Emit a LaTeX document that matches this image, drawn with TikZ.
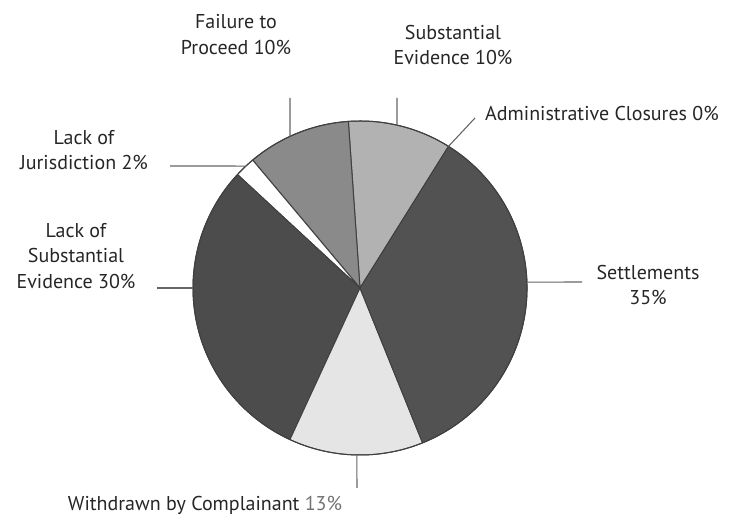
\documentclass[tikz,border=0pt]{standalone}
\usepackage{fontspec}
\setmainfont{PT Sans}
\usetikzlibrary{positioning,calc}

\begin{document}
\begin{tikzpicture}[
  x = 1pt,
  y = 1pt,
  slice/.style={draw=black!75,line width=1pt,line join=round},
  leader/.style={draw=black!60,line width=1.1pt},
  tag/.style={align=center,inner sep=0pt,text=black!85,font=\fontsize{20}{25.5}\selectfont},
  ]
  \useasboundingbox (0,0) rectangle (738,518);
  \coordinate (centre) at (360,230);

  \foreach \from/\to/\tone in {58/94/black!30, 94/130/black!46, 130/137.2/white,
                               137.2/245.2/black!70, 245.2/292/black!10, 292/418/black!68}
    \filldraw[slice,fill=\tone] (centre) -- ++(\from:167)
      arc[start angle=\from,end angle=\to,radius=167] -- cycle;
  \draw[slice] (centre) circle[radius=167];

  \node[tag] (failure) at (236,483.5) {Failure to\\Proceed 10\%};
  \node[tag] (substantial) at (453,473) {Substantial\\Evidence 10\%};
  \node[tag] (admin) at (602,405) {Administrative Closures 0\%};
  \node[tag] (jurisdiction) at (84,368) {Lack of\\Jurisdiction 2\%};
  \node[tag] (lack-evidence) at (76,262) {Lack of\\Substantial\\Evidence 30\%};
  \node[tag] (settlements) at (648,233) {Settlements\\35\%};
  \node[tag] (withdrawn) at (205,13) {Withdrawn by Complainant {\color{black!55}13\%}};

  \coordinate (failure-top) at (290,420);
  \coordinate (failure-edge) at ($(centre)+(114.8:167)$);
  \coordinate (substantial-top) at (397,420);
  \coordinate (substantial-edge) at ($(centre)+(77.2:167)$);
  \coordinate (admin-top) at (475,400);
  \coordinate (admin-edge) at ($(centre)+(58:167)$);
  \coordinate (jurisdiction-end) at (170,352);
  \coordinate (jurisdiction-edge) at ($(centre)+(133.1:167)$);
  \coordinate (lack-evidence-end) at (157,230);
  \coordinate (lack-evidence-edge) at ($(centre)+(180:167)$);
  \coordinate (settlements-end) at (582,236);
  \coordinate (settlements-edge) at ($(centre)+(2:167)$);
  \coordinate (withdrawn-end) at (357,30);
  \coordinate (withdrawn-edge) at ($(centre)+(268.9:167)$);

  \draw[leader] (failure-top) -- (failure-edge);
  \draw[leader] (substantial-top) -- (substantial-edge);
  \draw[leader] (admin-top) -- (admin-edge);
  \draw[leader] (jurisdiction-end) -- (jurisdiction-edge);
  \draw[leader] (lack-evidence-end) -- (lack-evidence-edge);
  \draw[leader] (settlements-end) -- (settlements-edge);
  \draw[leader] (withdrawn-end) -- (withdrawn-edge);
\end{tikzpicture}
\end{document}
